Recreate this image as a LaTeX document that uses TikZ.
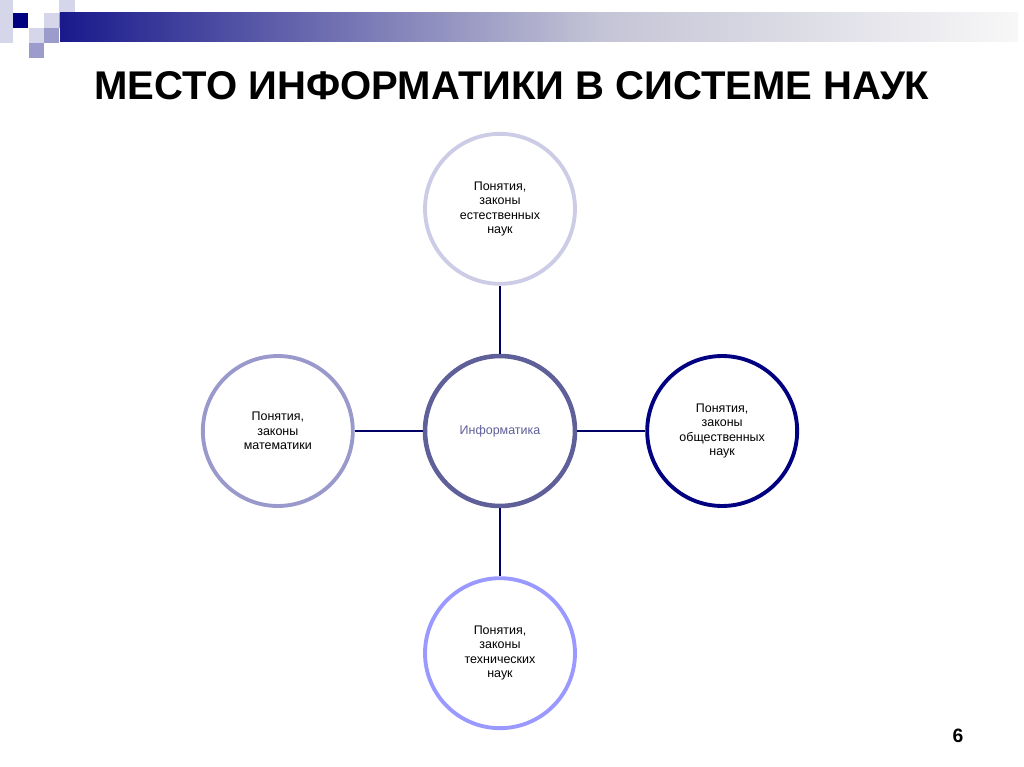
\documentclass[tikz,border=0pt]{standalone}
\usepackage{fontspec}
\setmainfont{Liberation Sans}
\usetikzlibrary{positioning}
\definecolor{topcol}{HTML}{CCCCE6}
\definecolor{infcol}{HTML}{5F5F99}
\definecolor{mathcol}{HTML}{9999CC}
\definecolor{socicol}{HTML}{000080}
\definecolor{techcol}{HTML}{9999FF}
\definecolor{linkcol}{HTML}{000066}
\definecolor{palesq}{HTML}{D6D6EA}
\definecolor{midsq}{HTML}{9C9CCC}
\definecolor{barmid}{HTML}{C4C4D6}
\tikzset{
  science/.style={circle, draw, line width=2.2pt, minimum size=3.0cm, inner sep=0pt,
    align=center, font=\fontsize{7.1}{8.2}\selectfont},
  link/.style={draw=linkcol, line width=1.1pt}
}
\begin{document}
\begin{tikzpicture}[x=0.02cm,y=-0.02cm, node distance=1.36cm]
	\useasboundingbox (0,0) rectangle (1024,767);
	% header squares and bar
	\fill[palesq] (0,0) rectangle (13,43);
	\fill[palesq] (59,0) rectangle (75,13);
	\fill[socicol] (13,13) rectangle (28,28);
	\fill[palesq] (44,13) rectangle (59,28);
	\fill[midsq] (59,13) rectangle (75,28);
	\fill[palesq] (29,28) rectangle (44,43);
	\fill[midsq] (44,28) rectangle (59,43);
	\fill[midsq] (29,43) rectangle (44,58);
	\shade[left color=socicol!90!white, right color=barmid] (60,13) rectangle (600,42);
	\shade[left color=barmid, right color=white!97!black] (600,13) rectangle (1018,42);
	\node (title) at (512,86) {\fontsize{22.8}{27}\selectfont\bfseries МЕСТО ИНФОРМАТИКИ В СИСТЕМЕ НАУК};
	% circles
	\node[science, draw=infcol, line width=2.6pt, text=infcol] (inf) at (500,431) {Информатика};
	\node[science, draw=topcol, above=of inf] (nat) {Понятия,\\законы\\естественных\\наук};
	\node[science, draw=mathcol, left=of inf] (math) {Понятия,\\законы\\математики};
	\node[science, draw=socicol, right=of inf] (soc) {Понятия,\\законы\\общественных\\наук};
	\node[science, draw=techcol, below=of inf] (tech) {Понятия,\\законы\\технических\\наук};
	\path[link] (nat) -- (inf);
	\path[link] (math) -- (inf);
	\path[link] (soc) -- (inf);
	\path[link] (tech) -- (inf);
	\node (page) at (958,736) {\fontsize{11}{13}\selectfont\bfseries 6};
\end{tikzpicture}
\end{document}
